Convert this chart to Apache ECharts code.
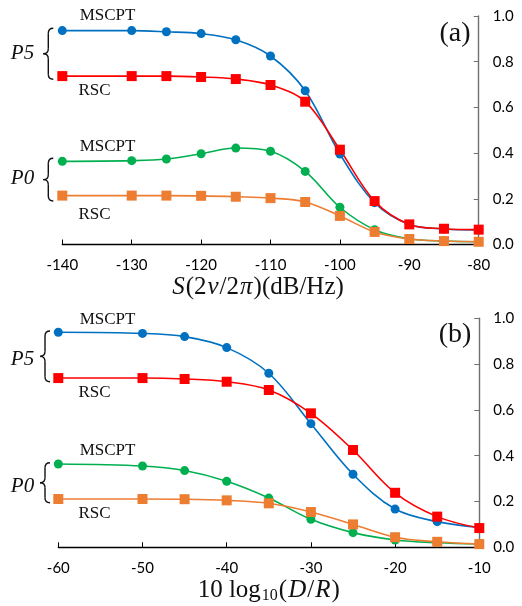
<!DOCTYPE html>
<html><head><meta charset="utf-8">
<script src="https://cdn.jsdelivr.net/npm/echarts@6/dist/echarts.min.js"></script>
<style>html,body{margin:0;padding:0;background:#fff}#c{width:522px;height:606px}</style>
</head><body><div id="c"></div>
<script>
// Panel (a)
const xA = [-140,-130,-125,-120,-115,-110,-105,-100,-95,-90,-85,-80];
const aP5MSCPT = [0.936,0.936,0.931,0.923,0.896,0.825,0.673,0.396,0.183,0.088,0.068,0.064];
const aP5RSC   = [0.737,0.737,0.737,0.733,0.724,0.698,0.625,0.415,0.190,0.088,0.069,0.065];
const aP0MSCPT = [0.364,0.367,0.374,0.397,0.422,0.408,0.320,0.163,0.065,0.025,0.015,0.012];
const aP0RSC   = [0.214,0.214,0.214,0.213,0.209,0.203,0.186,0.125,0.055,0.024,0.015,0.012];
// Panel (b)
const xB = [-60,-50,-45,-40,-35,-30,-25,-20,-15,-10];
const bP5MSCPT = [0.939,0.934,0.920,0.872,0.760,0.540,0.319,0.167,0.112,0.087];
const bP5RSC   = [0.739,0.739,0.735,0.723,0.687,0.585,0.425,0.238,0.134,0.084];
const bP0MSCPT = [0.364,0.355,0.335,0.288,0.215,0.122,0.064,0.032,0.020,0.015];
const bP0RSC   = [0.211,0.211,0.210,0.205,0.192,0.154,0.100,0.044,0.024,0.014];
const yTicks = [0,0.2,0.4,0.6,0.8,1.0];

const C = {blue:'#0070C0', red:'#FF0000', green:'#00B050', orange:'#ED7D31'};
const pair = (xs, ys) => xs.map((x,i)=>[x,ys[i]]);
function ser(idx, xs, ys, color, sym){
  return {type:'line', xAxisIndex:idx, yAxisIndex:idx, data:pair(xs,ys), smooth:0.35,
    symbol:sym, symbolSize: sym==='rect'?10:9, showSymbol:true,
    lineStyle:{color, width:1.6}, itemStyle:{color}, emphasis:{disabled:true}, animation:false};
}
function xAx(idx,min,max){
  return {type:'value', gridIndex:idx, min, max, interval:10, position:'bottom',
    axisLine:{show:true, onZero:false, lineStyle:{color:'#000', width:1.3}},
    axisTick:{show:true, inside:true, length:5, lineStyle:{color:'#000'}},
    axisLabel:{fontFamily:'Lato', fontSize:15, color:'#000', margin:13},
    splitLine:{show:false}};
}
function yAx(idx){
  return {type:'value', gridIndex:idx, min:0, max:1, interval:0.2, position:'right',
    axisLine:{show:true, lineStyle:{color:'#707070', width:1.4}},
    axisTick:{show:true, inside:true, length:5, lineStyle:{color:'#707070'}},
    axisLabel:{fontFamily:'Lato', fontSize:15, color:'#000', margin:14, formatter:v=>v.toFixed(1)},
    splitLine:{show:false}};
}
const serif = '"Liberation Serif", "DejaVu Serif", serif';
function txt(x,y,text,size,italic){
  return {type:'text', x, y, style:{text, fill:'#111', font:(italic?'italic ':'')+size+'px '+serif, align:'center', verticalAlign:'middle'}};
}
function brace(x, y1, y2){
  const w=10, ym=(y1+y2)/2, r=5, xm=x+w/2;
  const st = {stroke:'#111', lineWidth:1.4, fill:null};
  return {type:'group', children:[
    {type:'bezierCurve', shape:{x1:x+w,y1:y1,cpx1:xm,cpy1:y1,x2:xm,y2:y1+r}, style:st},
    {type:'line', shape:{x1:xm,y1:y1+r,x2:xm,y2:ym-r}, style:st},
    {type:'bezierCurve', shape:{x1:xm,y1:ym-r,cpx1:xm,cpy1:ym,x2:x,y2:ym}, style:st},
    {type:'bezierCurve', shape:{x1:x,y1:ym,cpx1:xm,cpy1:ym,x2:xm,y2:ym+r}, style:st},
    {type:'line', shape:{x1:xm,y1:ym+r,x2:xm,y2:y2-r}, style:st},
    {type:'bezierCurve', shape:{x1:xm,y1:y2-r,cpx1:xm,cpy1:y2,x2:x+w,y2:y2}, style:st}
  ]};
}
const richBase = {
  r:{fontFamily:serif, fontSize:25, fill:'#111', lineHeight:28, verticalAlign:'middle'},
  i:{fontFamily:serif, fontSize:25, fontStyle:'italic', fill:'#111', lineHeight:28, verticalAlign:'middle', padding:[0,1]},
  s:{fontFamily:serif, fontSize:16, fill:'#111', lineHeight:14, verticalAlign:'bottom', padding:[0,1]}
};
const chart = echarts.init(document.getElementById('c'), null, {renderer:'canvas'});
chart.setOption({
  backgroundColor:'#fff',
  animation:false,
  grid:[
    {left:62.3, right:43.3, top:16, bottom:361.5},
    {left:58.3, right:42.7, top:318.3, bottom:58.7}
  ],
  xAxis:[xAx(0,-140,-80), xAx(1,-60,-10)],
  yAxis:[yAx(0), yAx(1)],
  series:[
    ser(0,xA,aP5MSCPT,C.blue,'circle'),
    ser(0,xA,aP5RSC,C.red,'rect'),
    ser(0,xA,aP0MSCPT,C.green,'circle'),
    ser(0,xA,aP0RSC,C.orange,'rect'),
    ser(1,xB,bP5MSCPT,C.blue,'circle'),
    ser(1,xB,bP5RSC,C.red,'rect'),
    ser(1,xB,bP0MSCPT,C.green,'circle'),
    ser(1,xB,bP0RSC,C.orange,'rect')
  ],
  graphic:[
    txt(107.5,15.7,'MSCPT',17), txt(94.5,90.7,'RSC',17), txt(22.5,53.3,'P5',21,true), brace(43.3,28.3,79.3),
    txt(107.5,146.7,'MSCPT',17), txt(94.5,215,'RSC',17), txt(22.5,178.3,'P0',21,true), brace(43.3,158.3,201),
    txt(455,33.3,'(a)',28),
    txt(107.5,320,'MSCPT',17), txt(94.5,392.7,'RSC',17), txt(22.5,359.3,'P5',21,true), brace(40,331,381.7),
    txt(107.5,450.7,'MSCPT',17), txt(94.5,513.3,'RSC',17), txt(22.5,486.7,'P0',21,true), brace(40,462.7,502.7),
    txt(455,335,'(b)',28),
    {type:'text', x:257.5, y:287.5, style:{text:'{i|S}{r|(2}{i|ν}{r|/2}{i|π}{r|)(dB/Hz)}', rich:richBase, align:'center', verticalAlign:'middle'}},
    {type:'text', x:268.7, y:590, style:{text:'{r|10 log}{s|10}{r|(}{i|D}{r|/}{i|R}{r|)}', rich:richBase, align:'center', verticalAlign:'middle'}}
  ]
});
</script></body></html>
